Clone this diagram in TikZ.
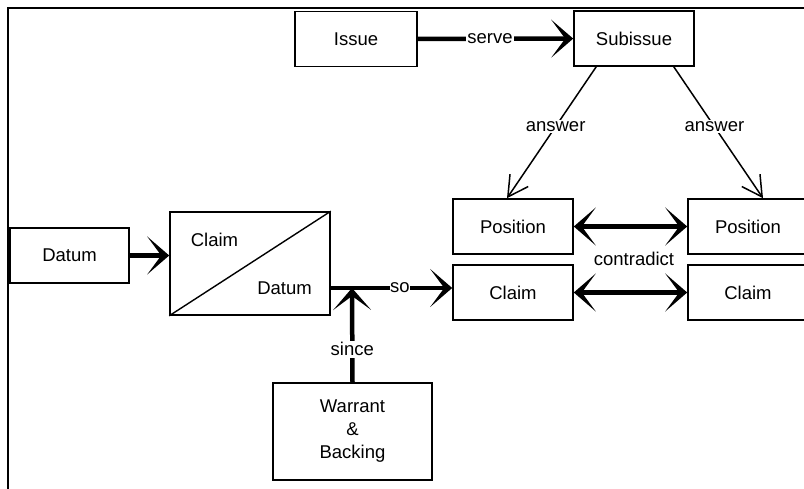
\documentclass[tikz,border=0pt]{standalone}
\usepackage{fontspec}
\setmainfont{Liberation Sans}
\usetikzlibrary{arrows.meta,calc}

\tikzset{
  bigtip/.tip={Stealth[length=22pt,width=38pt,inset=14pt,line width=1.4pt]},
  smalltip/.tip={Straight Barb[length=20pt,width=22pt,line width=1.5pt]},
  box/.style={draw,line width=1.6pt,rectangle,inner sep=0pt,
              font=\fontsize{18.5}{22}\selectfont},
  link/.style={line width=4.5pt,-bigtip},
  bilink/.style={line width=4.5pt,bigtip-bigtip},
  answerlink/.style={line width=1.5pt,-smalltip},
  lbl/.style={fill=white,inner sep=1.5pt,font=\fontsize{18.5}{22}\selectfont},
  txt/.style={inner sep=0pt,font=\fontsize{18.5}{22}\selectfont},
}

\begin{document}
\begin{tikzpicture}[x=1pt,y=-1pt]
  \useasboundingbox (0,0) rectangle (804,489);
  \clip (0,0) rectangle (804,489);

  % page frame
  \draw[line width=2.2pt] (8,489) -- (8,8) -- (810,8);

  % issue / subissue
  \node[box,minimum width=122pt,minimum height=55pt] (issue) at (356,39) {Issue};
  \node[box,minimum width=120pt,minimum height=55pt] (sub) at (634,38.5) {Subissue};

  % positions and claims
  \node[box,minimum width=120pt,minimum height=55pt] (posL) at (513,226.5) {Position};
  \node[box,minimum width=120pt,minimum height=55pt] (claimL) at (513,292.5) {Claim};
  \node[box,minimum width=120pt,minimum height=55pt] (posR) at (748,226.5) {Position};
  \node[box,minimum width=120pt,minimum height=55pt] (claimR) at (748,292.5) {Claim};
  \node[txt] (contra) at (634,259) {contradict};

  % datum, combined claim/datum box, warrant
  \node[box,minimum width=119pt,minimum height=55pt] (datum) at (69.5,255.5) {Datum};
  \node[box,minimum width=160pt,minimum height=103pt] (split) at (250,263.5) {};
  \draw[line width=1.4pt] (split.south west) -- (split.north east);
  \node[txt] (splitClaim) at (214.5,240) {Claim};
  \node[txt] (splitDatum) at (284.5,288) {Datum};
  \node[box,align=center,minimum width=159pt,minimum height=97pt,
        font=\fontsize{18.5}{23}\selectfont] (warrant) at (352.5,431.5)
        {Warrant\\\&\\Backing};

  \coordinate (jn) at (352,288);

  % connectors
  \draw[link] (issue) -- node[lbl,pos=0.465] {serve} (sub);
  \draw[answerlink] ([xshift=23pt]sub.south west) --
        node[lbl,pos=0.455] {answer} ([xshift=-6pt]posL.north);
  \draw[answerlink] ([xshift=-21pt]sub.south east) --
        node[lbl,pos=0.455] {answer} ([xshift=15pt]posR.north);
  \draw[bilink] (posL) -- (posR);
  \draw[bilink] (claimL) -- (claimR);
  \draw[link] (datum.east) -- (datum.east -| split.west);
  \draw[link] (split.east |- jn) -- node[lbl,pos=0.57,inner sep=0.5pt] {so} (claimL.west |- jn);
  \draw[link] (warrant.north) -- node[lbl,pos=0.35] {since} (jn);
\end{tikzpicture}
\end{document}
